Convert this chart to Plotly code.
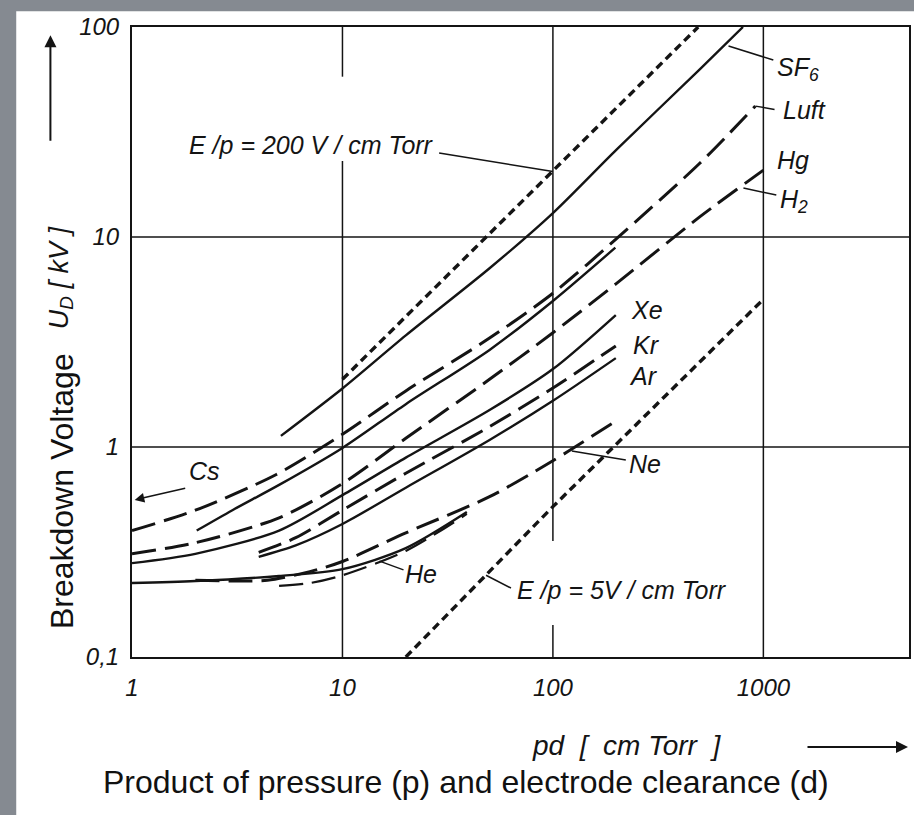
import plotly.graph_objects as go
import math

# ---------------- data ----------------
ep200_pd = [10, 100, 490]
ep200_u = [2.1, 20.5, 100]

ep5_pd = [20, 100, 1000]
ep5_u = [0.1, 0.52, 5.05]

sf6_pd = [5.1, 10, 20, 50, 100, 200, 500, 800]
sf6_u = [1.13, 1.9, 3.4, 7.1, 13, 26, 63, 100]

luft_pd = [1, 2, 4.85, 10, 20, 50, 100, 200, 500, 916]
luft_u = [0.40, 0.50, 0.74, 1.15, 1.85, 3.3, 5.4, 9.8, 22.5, 42]

solid2_pd = [2.03, 3, 5, 10, 20, 50, 100, 198]
solid2_u = [0.40, 0.50, 0.66, 0.99, 1.6, 2.9, 4.96, 8.9]

hg_pd = [1, 2, 5, 10, 20, 50, 100, 200, 500, 1000]
hg_u = [0.31, 0.35, 0.46, 0.67, 1.1, 2.1, 3.5, 6.0, 12.5, 20.8]

xe_pd = [1, 2, 5, 10, 20, 50, 100, 199]
xe_u = [0.28, 0.31, 0.40, 0.59, 0.89, 1.5, 2.35, 4.25]

kr_pd = [4, 6, 10, 20, 50, 100, 199]
kr_u = [0.315, 0.37, 0.50, 0.75, 1.25, 1.91, 3.03]

ar_pd = [4, 6, 10, 20, 50, 100, 199]
ar_u = [0.30, 0.34, 0.43, 0.64, 1.08, 1.66, 2.65]

ne_pd = [2, 3, 4.4, 7, 10, 20, 50, 100, 199]
ne_u = [0.232, 0.23, 0.232, 0.255, 0.285, 0.39, 0.58, 0.86, 1.33]

he_pd = [1, 2, 5, 10, 20, 39]
he_u = [0.225, 0.23, 0.243, 0.262, 0.33, 0.49]

he2_pd = [5, 7, 10, 20, 39]
he2_u = [0.218, 0.225, 0.245, 0.32, 0.48]

x_tickvals = [1, 10, 100, 1000]
x_ticktext = ["1", "10", "100", "1000"]
y_tickvals = [0.1, 1, 10, 100]
y_ticktext = ["0,1", "1", "10", "100"]

# ---------------- styles ----------------
INK = "#141414"
LONG = "24px,9px"
SHORT = "8px,5px"
TECH = "Liberation Sans, Arial, sans-serif"
PLAIN = "Liberation Sans, Arial, sans-serif"
NB = "\u00a0"

series = [
    (ep200_pd, ep200_u, SHORT, 3.4, "linear"),
    (ep5_pd, ep5_u, SHORT, 3.4, "linear"),
    (sf6_pd, sf6_u, "solid", 2.4, "spline"),
    (luft_pd, luft_u, LONG, 3.0, "spline"),
    (solid2_pd, solid2_u, "solid", 2.4, "spline"),
    (hg_pd, hg_u, LONG, 3.0, "spline"),
    (xe_pd, xe_u, "solid", 2.4, "spline"),
    (kr_pd, kr_u, LONG, 3.0, "spline"),
    (ar_pd, ar_u, "solid", 2.4, "spline"),
    (ne_pd, ne_u, LONG, 3.0, "spline"),
    (he_pd, he_u, "solid", 2.4, "spline"),
    (he2_pd, he2_u, LONG, 2.2, "spline"),
]

fig = go.Figure()
for xs, ys, dash, w, shape in series:
    fig.add_trace(go.Scatter(
        x=xs, y=ys, mode="lines",
        line=dict(color=INK, width=w, dash=dash, shape=shape, smoothing=0.8),
        hoverinfo="skip", showlegend=False,
    ))

shapes = []
# white scanned paper on the gray frame
shapes.append(dict(type="rect", xref="paper", yref="paper",
                   x0=-0.149, x1=1.02, y0=-0.27, y1=1.025,
                   fillcolor="white", line=dict(width=0), layer="below"))
# grid lines (with the gaps of the original drawing)
grid = dict(color=INK, width=1.5)
for y0, y1 in [(0.1, 23), (58, 100)]:
    shapes.append(dict(type="line", xref="x", yref="y", x0=10, x1=10, y0=y0, y1=y1, line=grid, layer="below"))
for y0, y1 in [(0.1, 0.142), (0.357, 100)]:
    shapes.append(dict(type="line", xref="x", yref="y", x0=100, x1=100, y0=y0, y1=y1, line=grid, layer="below"))
shapes.append(dict(type="line", xref="x", yref="y", x0=1000, x1=1000, y0=0.1, y1=100, line=grid, layer="below"))
for yv in [1, 10]:
    shapes.append(dict(type="line", xref="paper", yref="y", x0=0, x1=1, y0=yv, y1=yv, line=grid, layer="below"))

# leader lines for labels
lead = dict(color=INK, width=1.5)
leaders = [
    ((28.8, 25.1), (100, 20.5)),      # E/p 200
    ((63.2, 0.213), (48.1, 0.245)),   # E/p 5
    ((1115, 69.6), (683, 81.2)),      # SF6
    ((1130, 40.5), (916, 42)),        # Luft
    ((1152, 15.85), (804, 17.1)),     # H2
    ((222, 0.867), (123, 0.957)),     # Ne
    ((19.5, 0.26), (15, 0.286)),      # He
]
for (xa, ya), (xb, yb) in leaders:
    shapes.append(dict(type="line", xref="x", yref="y", x0=xa, y0=ya, x1=xb, y1=yb, line=lead))

tfont = dict(family=TECH, size=24, color=INK, style="italic")
ann = []


def label(text, x, y, size=25):
    ann.append(dict(text=text, x=math.log10(x), y=math.log10(y), xref="x", yref="y",
                    showarrow=False, xanchor="center", yanchor="middle",
                    font=dict(tfont, size=size)))


label("E /p = 200 V / cm Torr", 7.1, 27.4)
label("E /p = 5V / cm Torr", 212, 0.208)
label("SF<sub>6</sub>", 1465, 63)
label("Luft", 1563, 40.2)
label("Hg", 1387, 23.3)
label("H<sub>2</sub>", 1402, 14.8)
label("Xe", 279, 4.49)
label("Kr", 277, 3.06)
label("Ar", 270, 2.18)
label("Ne", 273, 0.83)
label("He", 23.7, 0.248)
label("Cs", 2.22, 0.77)

# Cs arrow
ann.append(dict(text="", x=math.log10(1.03), y=math.log10(0.56), xref="x", yref="y",
                showarrow=True, ax=52, ay=-12, arrowhead=2, arrowsize=1.2, arrowwidth=1.6,
                arrowcolor=INK))

# axis titles
ann.append(dict(text="U<sub>D</sub>" + NB + "[" + NB + "kV" + NB + "]", xref="paper", yref="paper",
                x=-0.092, y=0.602, xanchor="center", yanchor="middle",
                textangle=-90, showarrow=False, font=dict(tfont, size=27)))
ann.append(dict(text="", xref="paper", yref="paper", x=-0.105, y=0.987, ax=0, ay=107,
                showarrow=True, arrowhead=2, arrowsize=1.2, arrowwidth=2, arrowcolor=INK))
ann.append(dict(text="Breakdown Voltage", xref="paper", yref="paper", x=-0.09, y=0.2635,
                xanchor="center", yanchor="middle", textangle=-90, showarrow=False,
                font=dict(family=PLAIN, size=32, color="#111")))
ann.append(dict(text="pd" + NB * 2 + "[" + NB * 2 + "cm Torr" + NB * 2 + "]", xref="paper", yref="paper",
                x=0.637, y=-0.14, xanchor="center", yanchor="middle",
                showarrow=False, font=dict(tfont, size=28)))
ann.append(dict(text="", xref="paper", yref="paper", x=0.9987, y=-0.143, ax=-102, ay=0,
                showarrow=True, arrowhead=2, arrowsize=1.2, arrowwidth=2, arrowcolor=INK))
ann.append(dict(text="Product of pressure (p) and electrode clearance (d)", xref="paper", yref="paper",
                x=0.43, y=-0.198, xanchor="center", yanchor="middle", showarrow=False,
                font=dict(family=PLAIN, size=32, color="#111")))

fig.update_layout(
    width=914, height=815,
    margin=dict(l=132, r=3, t=27, b=158),
    paper_bgcolor="#858a91",
    plot_bgcolor="white",
    shapes=shapes,
    annotations=ann,
    xaxis=dict(type="log", range=[0, 3.692], showgrid=False, zeroline=False,
               showline=True, mirror=True, linecolor=INK, linewidth=2, ticks="",
               tickvals=x_tickvals, ticktext=x_ticktext, tickfont=tfont,
               ticklabelstandoff=8),
    yaxis=dict(type="log", range=[-1, 2], showgrid=False, zeroline=False,
               showline=True, mirror=True, linecolor=INK, linewidth=2, ticks="",
               tickvals=y_tickvals, ticktext=y_ticktext, tickfont=tfont,
               ticklabelstandoff=6),
)

fig.write_html("out.html", config={"displayModeBar": False},
               post_script="document.body.style.margin='0';document.body.style.overflow='hidden';")
